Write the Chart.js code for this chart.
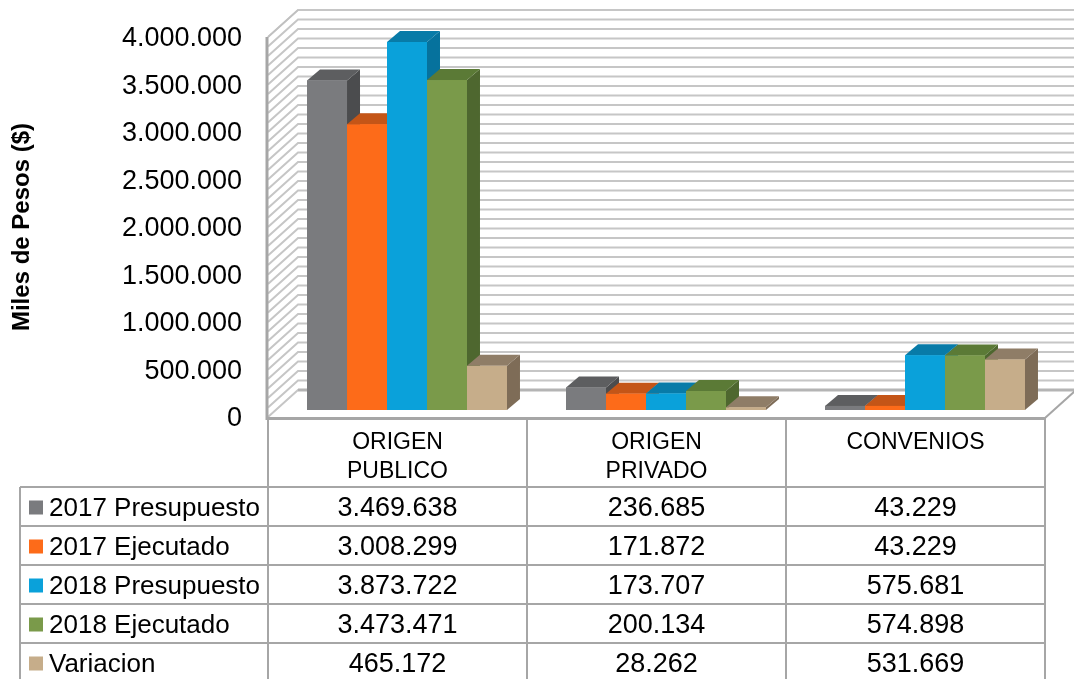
<!DOCTYPE html>
<html>
<head>
<meta charset="utf-8">
<script src="https://cdn.jsdelivr.net/npm/chart.js@4/dist/chart.umd.min.js"></script>
<style>
  html, body { margin: 0; padding: 0; background: #fff; }
  canvas { display: block; }
</style>
</head>
<body>
<canvas id="grafico" width="1074" height="679"></canvas>
<script>
// Datos del grafico
var categorias = [['ORIGEN', 'PUBLICO'], ['ORIGEN', 'PRIVADO'], ['CONVENIOS']];
var series = ['2017 Presupuesto', '2017 Ejecutado', '2018 Presupuesto', '2018 Ejecutado', 'Variacion'];
var presupuesto2017 = [3469638, 236685, 43229];
var ejecutado2017 = [3008299, 171872, 43229];
var presupuesto2018 = [3873722, 173707, 575681];
var ejecutado2018 = [3473471, 200134, 574898];
var variacion = [465172, 28262, 531669];
var maxY = 4000000;
var pasoY = 500000;
var pasoGrilla = 100000;

// Colores: frente, costado y techo de cada barra
var colFrente = ['#7a7b7e', '#fd6b19', '#0aa1da', '#7a9a4a', '#c6ad8a'];
var colLado = ['#4b4c4e', '#b94f14', '#06729d', '#4e672f', '#7e6c57'];
var colTecho = ['#5d5e60', '#c45517', '#087ba8', '#5b7a36', '#8f7d67'];

var fuente = "'Liberation Sans', Arial, sans-serif";

// Profundidad de las paredes y de las barras (efecto 3D)
var PARED_X = 30, PARED_Y = -27;
var BARRA_X = 9.5, BARRA_Y = -7;
var LADO_X = 13, LADO_Y = -11;

function formato(v) {
  return String(v).replace(/\B(?=(\d{3})+(?!\d))/g, '.');
}

function linea(ctx, x1, y1, x2, y2) {
  ctx.beginPath();
  ctx.moveTo(x1, y1);
  ctx.lineTo(x2, y2);
  ctx.stroke();
}

var efecto3d = {
  id: 'efecto3d',
  beforeDatasetsDraw: function(chart) {
    var ctx = chart.ctx, a = chart.chartArea, y = chart.scales.y;
    ctx.save();
    var y0 = y.getPixelForValue(0);

    // lineas de la grilla en pared izquierda y pared del fondo
    ctx.lineWidth = 2;
    ctx.strokeStyle = '#c6c6c6';
    for (var v = 0; v <= maxY; v += pasoGrilla) {
      var py = y.getPixelForValue(v);
      ctx.beginPath();
      ctx.moveTo(a.left, py);
      ctx.lineTo(a.left + PARED_X, py + PARED_Y);
      ctx.lineTo(a.right + PARED_X, py + PARED_Y);
      ctx.stroke();
    }
    // borde trasero del piso
    ctx.strokeStyle = '#b4b4b4';
    ctx.lineWidth = 3;
    linea(ctx, a.left + PARED_X, y0 + PARED_Y, a.right + PARED_X, y0 + PARED_Y);
    // borde derecho del piso
    ctx.lineWidth = 2;
    ctx.strokeStyle = '#a6a6a6';
    linea(ctx, a.right, y0 + 1, a.right + PARED_X, y0 + PARED_Y + 1);
    // borde frontal del piso
    ctx.lineWidth = 3;
    linea(ctx, a.left - 2, y0 + 1.5, a.right, y0 + 1.5);
    // borde de la pared izquierda
    linea(ctx, a.left - 1, a.top, a.left - 1, y0 + 3);
    ctx.lineWidth = 1.5;
    ctx.strokeStyle = '#c0c0c0';
    linea(ctx, a.left, a.top, a.left + PARED_X, a.top + PARED_Y);
    ctx.restore();

    // las barras se dibujan corridas hacia el fondo
    ctx.save();
    ctx.translate(BARRA_X, BARRA_Y);
  },
  afterDatasetsDraw: function(chart) {
    var ctx = chart.ctx;
    var n = chart.data.labels.length;
    for (var i = 0; i < n; i++) {
      for (var d = 0; d < chart.data.datasets.length; d++) {
        var el = chart.getDatasetMeta(d).data[i];
        var L = el.x - el.width / 2, R = el.x + el.width / 2;
        var T = el.y, B = el.base;
        // costado
        ctx.fillStyle = colLado[d];
        ctx.beginPath();
        ctx.moveTo(R, T);
        ctx.lineTo(R + LADO_X, T + LADO_Y);
        ctx.lineTo(R + LADO_X, B + LADO_Y);
        ctx.lineTo(R, B);
        ctx.closePath();
        ctx.fill();
        // techo
        ctx.fillStyle = colTecho[d];
        ctx.beginPath();
        ctx.moveTo(L, T);
        ctx.lineTo(L + LADO_X, T + LADO_Y);
        ctx.lineTo(R + LADO_X, T + LADO_Y);
        ctx.lineTo(R, T);
        ctx.closePath();
        ctx.fill();
        // frente
        ctx.fillStyle = colFrente[d];
        ctx.fillRect(L, T, R - L, B - T);
      }
    }
    ctx.restore();
  },
  afterDraw: function(chart) {
    // tabla de datos debajo del grafico
    var ctx = chart.ctx, a = chart.chartArea, x = chart.scales.x;
    var n = chart.data.labels.length;
    var anchoCol = (a.right - a.left) / n;
    var arriba = a.bottom + 1;
    var altoEnc = 69, altoFila = 39, izq = 20;
    var inicioFilas = arriba + altoEnc;
    var fin = inicioFilas + altoFila * series.length + 3;

    ctx.save();
    ctx.strokeStyle = '#a6a6a6';
    ctx.lineWidth = 2;
    for (var c = 0; c <= n; c++) {
      var xc = a.left + c * anchoCol;
      linea(ctx, xc, arriba, xc, fin);
    }
    linea(ctx, izq, inicioFilas, izq, fin);
    for (var r = 0; r <= series.length; r++) {
      var yr = inicioFilas + r * altoFila;
      linea(ctx, izq, yr, a.right, yr);
    }

    ctx.fillStyle = '#000';
    ctx.textAlign = 'center';
    ctx.textBaseline = 'middle';
    ctx.font = '23px ' + fuente;
    for (var i = 0; i < n; i++) {
      var cx = x.getPixelForValue(i);
      var lab = categorias[i];
      for (var k = 0; k < lab.length; k++) {
        ctx.fillText(lab[k], cx, arriba + 25 + k * 29);
      }
    }

    var datos = chart.data.datasets;
    for (var s = 0; s < series.length; s++) {
      var cy = inicioFilas + s * altoFila + altoFila / 2 + 1;
      ctx.fillStyle = colFrente[s];
      ctx.fillRect(29, cy - 7, 14, 14);
      ctx.fillStyle = '#000';
      ctx.textAlign = 'left';
      ctx.font = '26px ' + fuente;
      ctx.fillText(series[s], 49, cy + 1);
      ctx.textAlign = 'center';
      ctx.font = '27px ' + fuente;
      for (var j = 0; j < n; j++) {
        ctx.fillText(formato(datos[s].data[j]), x.getPixelForValue(j), cy + 1);
      }
    }
    ctx.restore();
  }
};

var valores = [presupuesto2017, ejecutado2017, presupuesto2018, ejecutado2018, variacion];

var ctx = document.getElementById('grafico').getContext('2d');
var grafico = new Chart(ctx, {
  type: 'bar',
  data: {
    labels: categorias,
    datasets: series.map(function(nombre, k) {
      return {
        label: nombre,
        data: valores[k],
        backgroundColor: colFrente[k],
        borderWidth: 0,
        categoryPercentage: 0.772,
        barPercentage: 1
      };
    })
  },
  options: {
    responsive: false,
    animation: false,
    devicePixelRatio: 1,
    layout: { padding: { left: 0, top: 37, right: 29, bottom: 262 } },
    plugins: {
      legend: { display: false },
      tooltip: { enabled: false }
    },
    scales: {
      x: { display: false },
      y: {
        min: 0,
        max: maxY,
        afterFit: function(s) {
          s.width = 268;
          s.paddingTop = 0;
          s.paddingBottom = 0;
        },
        grid: { display: false, drawTicks: false },
        border: { display: false },
        ticks: {
          stepSize: pasoY,
          padding: 26,
          labelOffset: 2,
          color: '#000',
          font: { family: fuente, size: 27 },
          callback: function(v) { return formato(v); }
        },
        title: {
          display: true,
          text: 'Miles de Pesos ($)',
          color: '#000',
          font: { family: fuente, size: 24, weight: 'bold' },
          padding: { top: 8, bottom: 0 }
        }
      }
    }
  },
  plugins: [efecto3d]
});
</script>
</body>
</html>
